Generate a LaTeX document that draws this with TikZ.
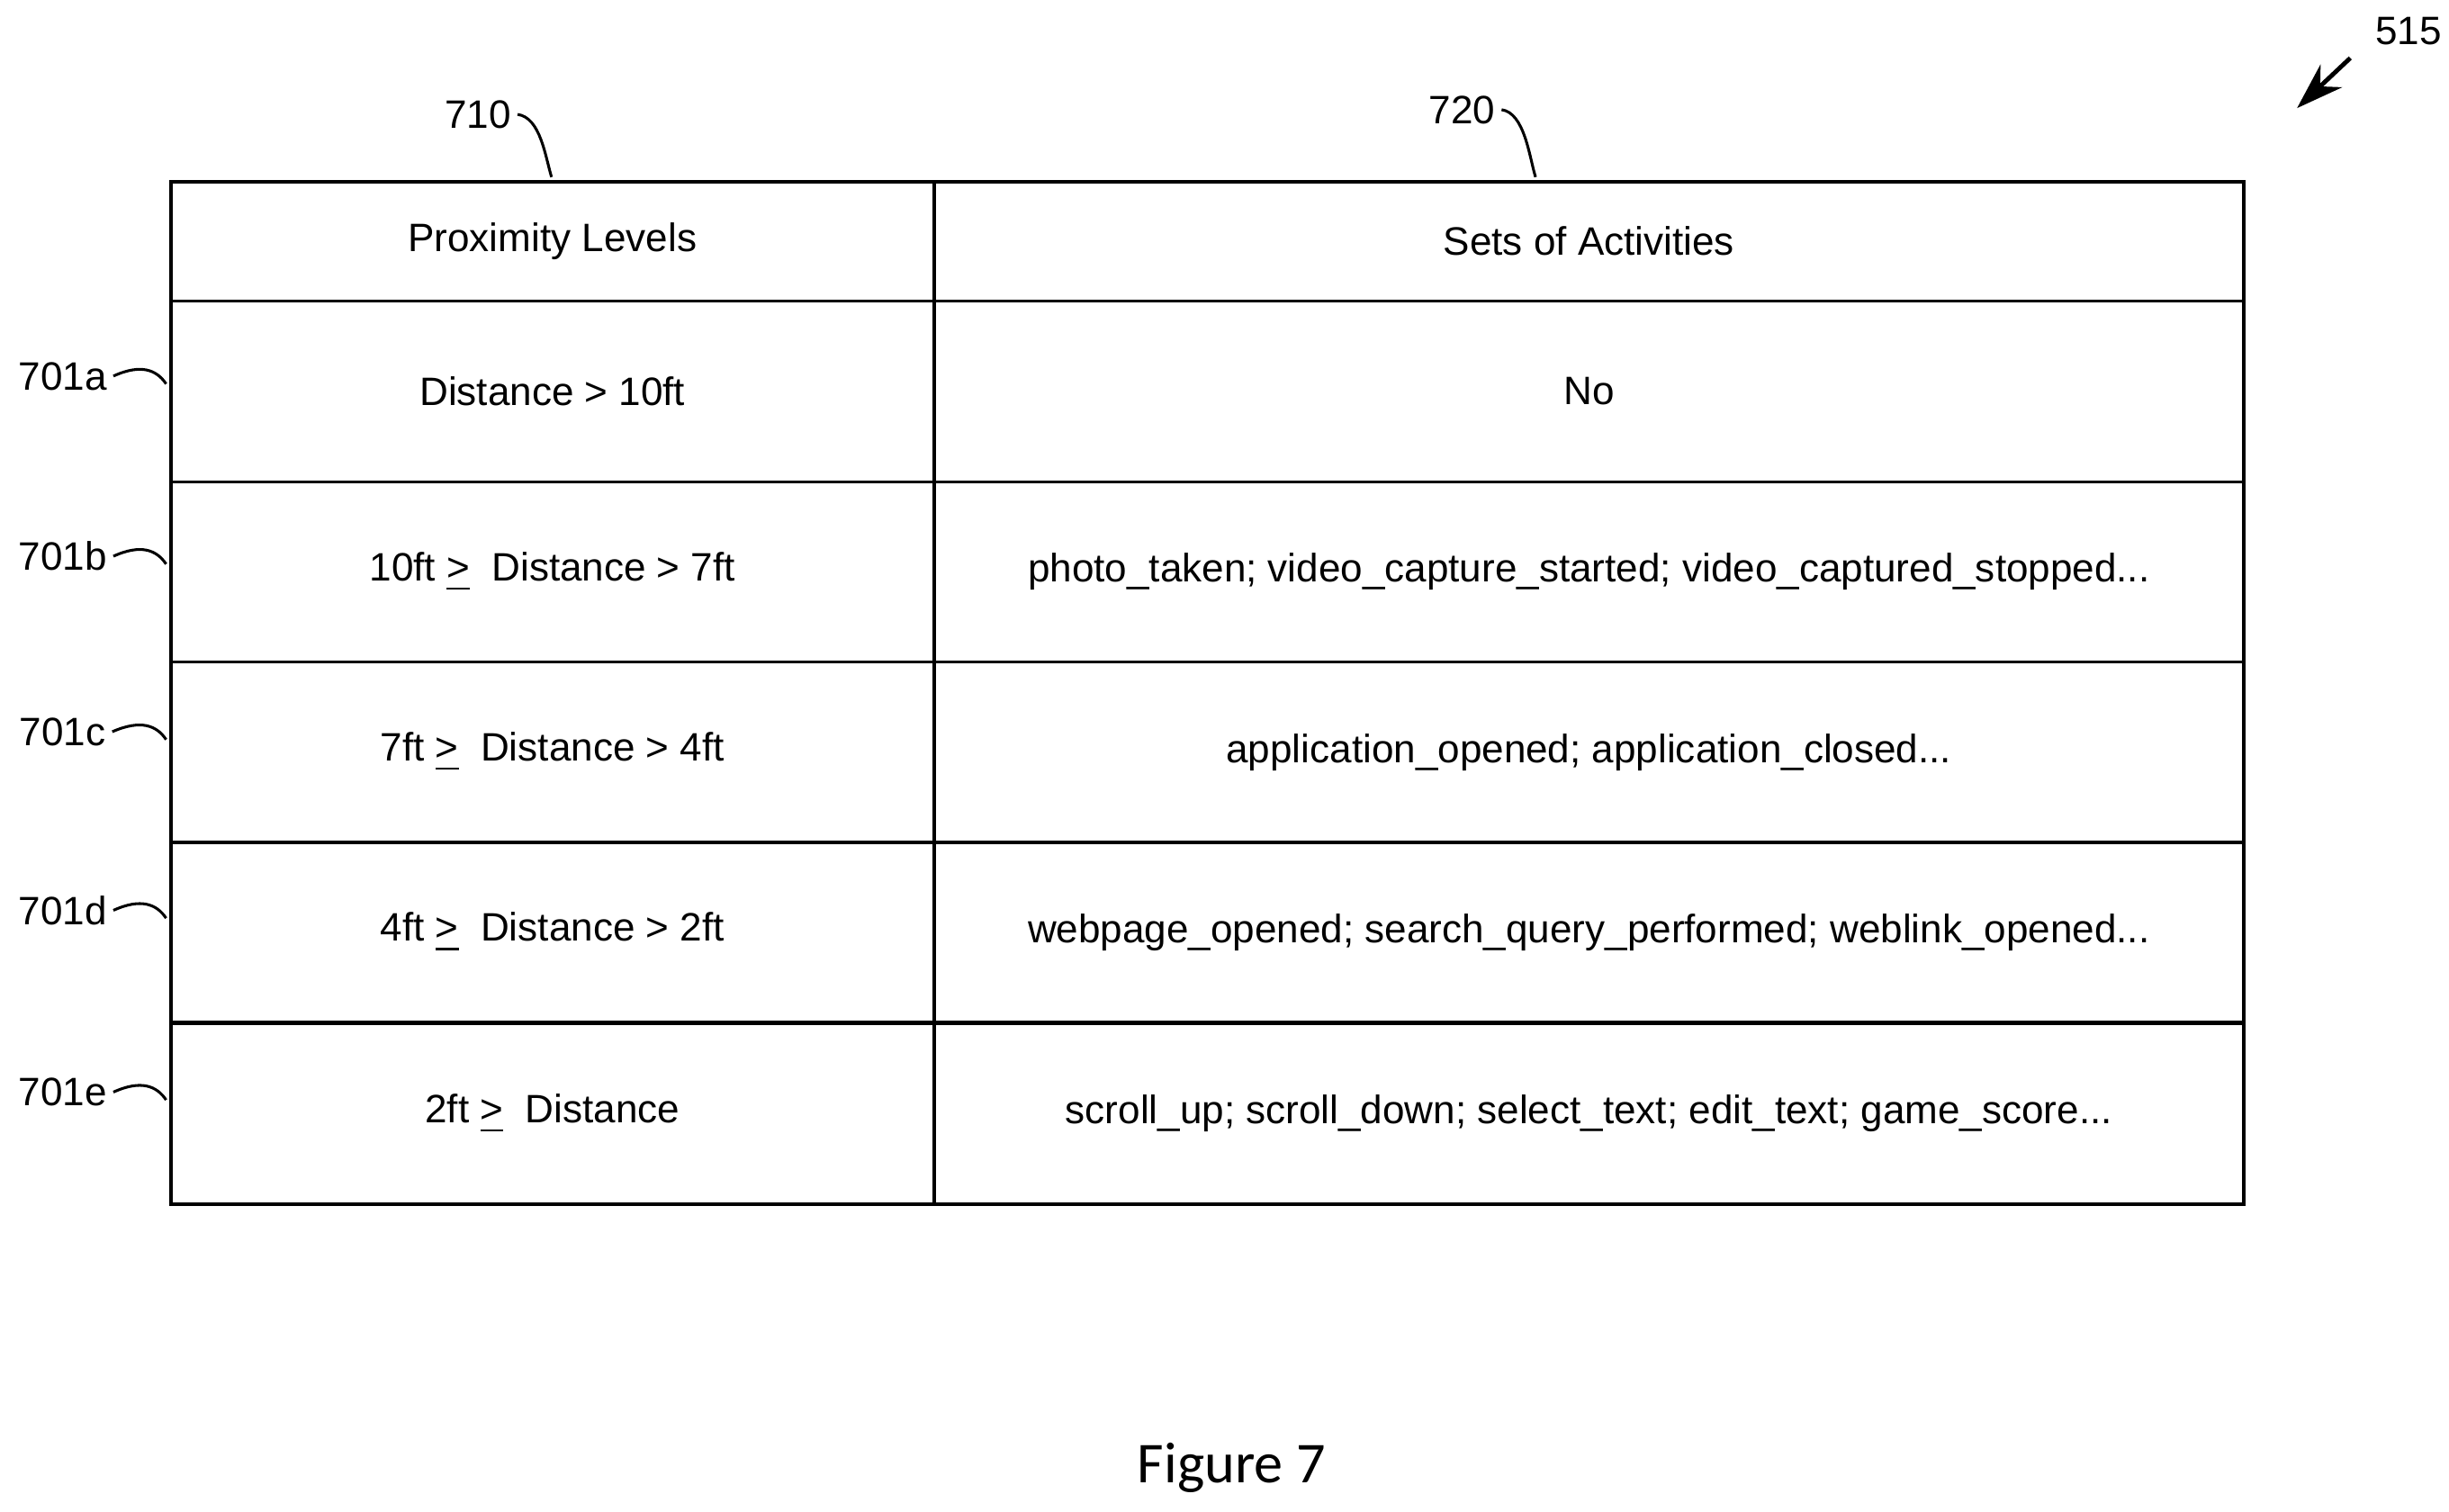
\documentclass[tikz,border=0pt]{standalone}
\usepackage{fontspec}
\setmainfont{Liberation Sans}
\newfontfamily\capfont{Carlito}
\usetikzlibrary{positioning, arrows.meta}
\tikzset{
  cell/.style={draw, line width=0.6pt, anchor=north west, inner sep=0pt, font=\fontsize{7.2}{9}\selectfont},
  refnum/.style={font=\fontsize{7.2}{9}\selectfont, inner sep=1pt},
  lead/.style={line width=0.5pt}
}
\begin{document}
\begin{tikzpicture}[x=0.1mm,y=-0.1mm]
		\useasboundingbox (0,0) rectangle (1563,965);
		
		%----------------------------------------------------------------
		\node(h1) [cell, minimum width=48.7mm, minimum height=7.6mm] at (108,115) {Proximity Levels};
		\node(h2) [cell, minimum width=83.6mm, minimum height=7.6mm] at (595,115) {Sets of Activities};
		
		\node(a1) [cell, minimum width=48.7mm, minimum height=11.55mm] at (108,191) {Distance > 10ft};
		\node(a2) [cell, minimum width=83.6mm, minimum height=11.55mm] at (595,191) {No};
		\node(b1) [cell, minimum width=48.7mm, minimum height=11.5mm] at (108,306.5) {10ft \underline{>}\ \ Distance > 7ft};
		\node(b2) [cell, minimum width=83.6mm, minimum height=11.5mm] at (595,306.5) {photo\_taken; video\_capture\_started; video\_captured\_stopped...};
		\node(c1) [cell, minimum width=48.7mm, minimum height=11.5mm] at (108,421.5) {7ft \underline{>}\ \ Distance > 4ft};
		\node(c2) [cell, minimum width=83.6mm, minimum height=11.5mm] at (595,421.5) {application\_opened; application\_closed...};
		\node(d1) [cell, minimum width=48.7mm, minimum height=11.5mm] at (108,536.5) {4ft \underline{>}\ \ Distance > 2ft};
		\node(d2) [cell, minimum width=83.6mm, minimum height=11.5mm] at (595,536.5) {webpage\_opened; search\_query\_performed; weblink\_opened...};
		\node(e1) [cell, minimum width=48.7mm, minimum height=11.55mm] at (108,652) {2ft \underline{>}\ \ Distance};
		\node(e2) [cell, minimum width=83.6mm, minimum height=11.55mm] at (595,652) {scroll\_up; scroll\_down; select\_text; edit\_text; game\_score...};
		
		%----------------------------------------------------------------
		\node(n710) [refnum] at (305,73) {710};
		\node(n720) [refnum] at (933,70) {720};
		\draw [lead] (n710.east) .. controls (345,75) and (348,100) .. (352,113);
		\draw [lead] (n720.east) .. controls (973,72) and (976,100) .. (980,113);
		
		\foreach \r/\y in {a/240, b/355, c/467, d/581, e/697}{
			\node(n701\r) [refnum] at (40,\y) {701\r};
			\draw [lead] (n701\r.east) .. controls (90,\y-8) and (100,\y-4) .. (106,\y+5);
		}
		
		\node(n515) [refnum] at (1537,20) {515};
		\coordinate (tip515) at (1466,69);
		\draw [line width=0.8pt, -{Stealth[length=3mm,width=2mm]}] (1500,37) -- (tip515);
		
		%----------------------------------------------------------------
		\node(caption) [font=\capfont\fontsize{10.5}{12}\selectfont] at (786,937) {Figure 7};
\end{tikzpicture}
\end{document}
